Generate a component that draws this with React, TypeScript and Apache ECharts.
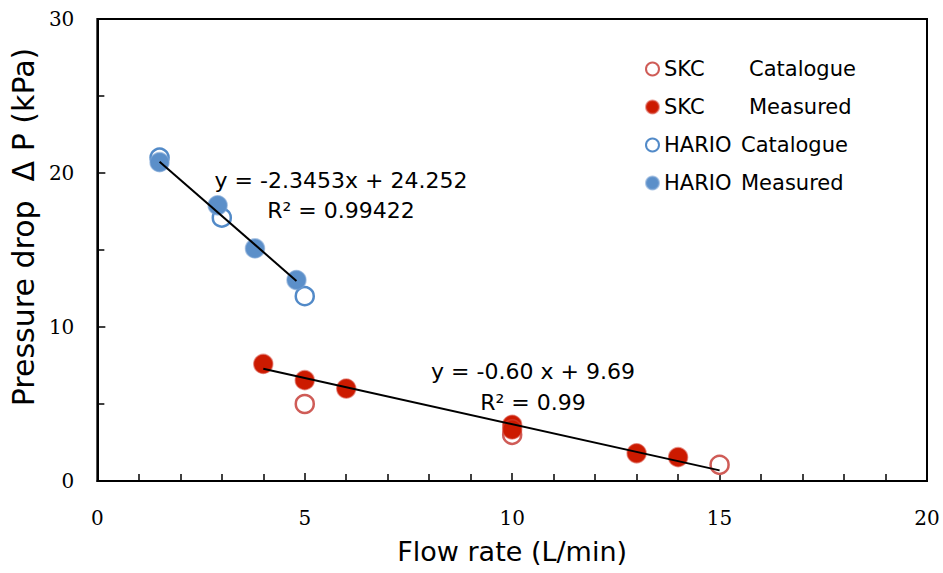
import React, { useEffect, useRef } from "react";
import * as echarts from "echarts";

// ---- data ----
const skcCatalogueX = [5, 10, 15];
const skcCatalogueY = [5.0, 3.0, 1.05];
const skcMeasuredX = [4, 5, 6, 10, 10, 13, 14];
const skcMeasuredY = [7.6, 6.55, 6.0, 3.65, 3.35, 1.8, 1.55];
const harioCatalogueX = [1.5, 3, 5];
const harioCatalogueY = [21.0, 17.1, 12.0];
const harioMeasuredX = [1.5, 2.9, 3.8, 4.8];
const harioMeasuredY = [20.7, 17.9, 15.1, 13.05];

// trend lines: [slope, intercept, xFrom, xTo]
const harioFit = [-2.3453, 24.252, 1.5, 4.8];
const skcFit = [-0.6, 9.69, 4, 15];

const seriesNames = ["SKC Catalogue", "SKC Measured", "HARIO Catalogue", "HARIO Measured"];
const equationTexts = ["y = -2.3453x + 24.252", "R² = 0.99422", "y = -0.60 x + 9.69", "R² = 0.99"];

const xRange = [0, 20, 5];
const yRange = [0, 30, 10];

const zip = (xs: number[], ys: number[]) => xs.map((x, i) => [x, ys[i]]);
const fitLine = (f: number[]) => [
  [f[2], f[0] * f[2] + f[1]],
  [f[3], f[0] * f[3] + f[1]],
];

const SANS = "DejaVu Sans";
const SERIF = "DejaVu Serif";

export default function App() {
  const ref = useRef<HTMLDivElement>(null);
  useEffect(() => {
    if (!ref.current) return;
    const chart = echarts.init(ref.current, undefined, { renderer: "svg" });
    const red = "#CC1A00";
    const redHollow = "#CF5C57";
    const blue = "#5B8FC9";
    const blueHollow = "#528AC8";
    const eqStyle = (text: string) => ({
      text,
      fill: "#000",
      fontSize: 22,
      fontFamily: SANS,
      align: "center",
      verticalAlign: "middle",
    });
    chart.setOption({
      animation: false,
      backgroundColor: "#fff",
      grid: {
        left: 97,
        right: 16,
        top: 19,
        bottom: 92,
        show: true,
        borderColor: "#000",
        borderWidth: 2,
        backgroundColor: "transparent",
      },
      legend: {
        data: seriesNames,
        orient: "vertical",
        left: 640,
        top: 53,
        itemWidth: 13,
        itemHeight: 13,
        itemGap: 16,
        icon: "circle",
        formatter: (name: string) => {
          const [a, b] = name.split(" ");
          return a === "SKC" ? `{s|${a}}{c|${b}}` : `{h|${a}}{c|${b}}`;
        },
        textStyle: {
          fontFamily: SANS,
          fontSize: 21,
          color: "#000",
          lineHeight: 22,
          rich: {
            s: { width: 85, fontFamily: SANS, fontSize: 21, color: "#000" },
            h: { width: 77, fontFamily: SANS, fontSize: 21, color: "#000" },
            c: { fontFamily: SANS, fontSize: 21, color: "#000" },
          },
        },
      },
      xAxis: {
        type: "value",
        min: xRange[0],
        max: xRange[1],
        interval: xRange[2],
        name: "Flow rate (L/min)",
        nameLocation: "middle",
        nameGap: 57,
        nameTextStyle: { fontFamily: SANS, fontSize: 27, color: "#000" },
        axisLine: { show: true, lineStyle: { color: "#000", width: 2 } },
        axisTick: { show: true, inside: true, length: 8, lineStyle: { color: "#000", width: 1.5 } },
        minorTick: { show: true, splitNumber: 5, length: 7, lineStyle: { color: "#000", width: 1.5 } },
        splitLine: { show: false },
        axisLabel: { fontFamily: SERIF, fontSize: 20, color: "#000", margin: 27 },
      },
      yAxis: {
        type: "value",
        min: yRange[0],
        max: yRange[1],
        interval: yRange[2],
        name: "Pressure drop  Δ P (kPa)",
        nameLocation: "middle",
        nameGap: 59,
        nameTextStyle: { fontFamily: SANS, fontSize: 30, color: "#000", padding: [0, 0, 0, 46] },
        axisLine: { show: true, lineStyle: { color: "#000", width: 2 } },
        axisTick: { show: true, inside: true, length: 8, lineStyle: { color: "#000", width: 1.5 } },
        minorTick: { show: true, splitNumber: 2, length: 7, lineStyle: { color: "#000", width: 1.5 } },
        splitLine: { show: false },
        axisLabel: { fontFamily: SERIF, fontSize: 20, color: "#000", margin: 23 },
      },
      series: [
        {
          name: seriesNames[0],
          type: "scatter",
          symbol: "circle",
          symbolSize: 18,
          data: zip(skcCatalogueX, skcCatalogueY),
          itemStyle: { color: "#fff", borderColor: redHollow, borderWidth: 2.5, opacity: 1 },
          z: 2,
        },
        {
          name: seriesNames[2],
          type: "scatter",
          symbol: "circle",
          symbolSize: 18,
          data: zip(harioCatalogueX, harioCatalogueY),
          itemStyle: { color: "#fff", borderColor: blueHollow, borderWidth: 2.5, opacity: 1 },
          z: 2,
        },
        {
          name: seriesNames[1],
          type: "scatter",
          symbol: "circle",
          symbolSize: 19,
          data: zip(skcMeasuredX, skcMeasuredY),
          itemStyle: { color: red, borderColor: "rgba(215,75,60,0.55)", borderWidth: 1.5, opacity: 1 },
          z: 3,
        },
        {
          name: seriesNames[3],
          type: "scatter",
          symbol: "circle",
          symbolSize: 19,
          data: zip(harioMeasuredX, harioMeasuredY),
          itemStyle: { color: blue, borderColor: "rgba(120,162,212,0.6)", borderWidth: 1.5, opacity: 1 },
          z: 3,
        },
        {
          name: "HARIO trend",
          type: "line",
          data: fitLine(harioFit),
          symbol: "none",
          lineStyle: { color: "#000", width: 2 },
          silent: true,
          z: 4,
        },
        {
          name: "SKC trend",
          type: "line",
          data: fitLine(skcFit),
          symbol: "none",
          lineStyle: { color: "#000", width: 2 },
          silent: true,
          z: 4,
        },
      ],
      graphic: [
        { type: "text", x: 341, y: 180, style: eqStyle(equationTexts[0]), z: 10 },
        { type: "text", x: 341, y: 210, style: eqStyle(equationTexts[1]), z: 10 },
        { type: "text", x: 533, y: 371, style: eqStyle(equationTexts[2]), z: 10 },
        { type: "text", x: 533, y: 402, style: eqStyle(equationTexts[3]), z: 10 },
      ],
    });
    return () => chart.dispose();
  }, []);
  return (
    <div
      ref={ref}
      style={{ position: "fixed", left: 0, top: 0, width: 943, height: 573, background: "#fff" }}
    />
  );
}
